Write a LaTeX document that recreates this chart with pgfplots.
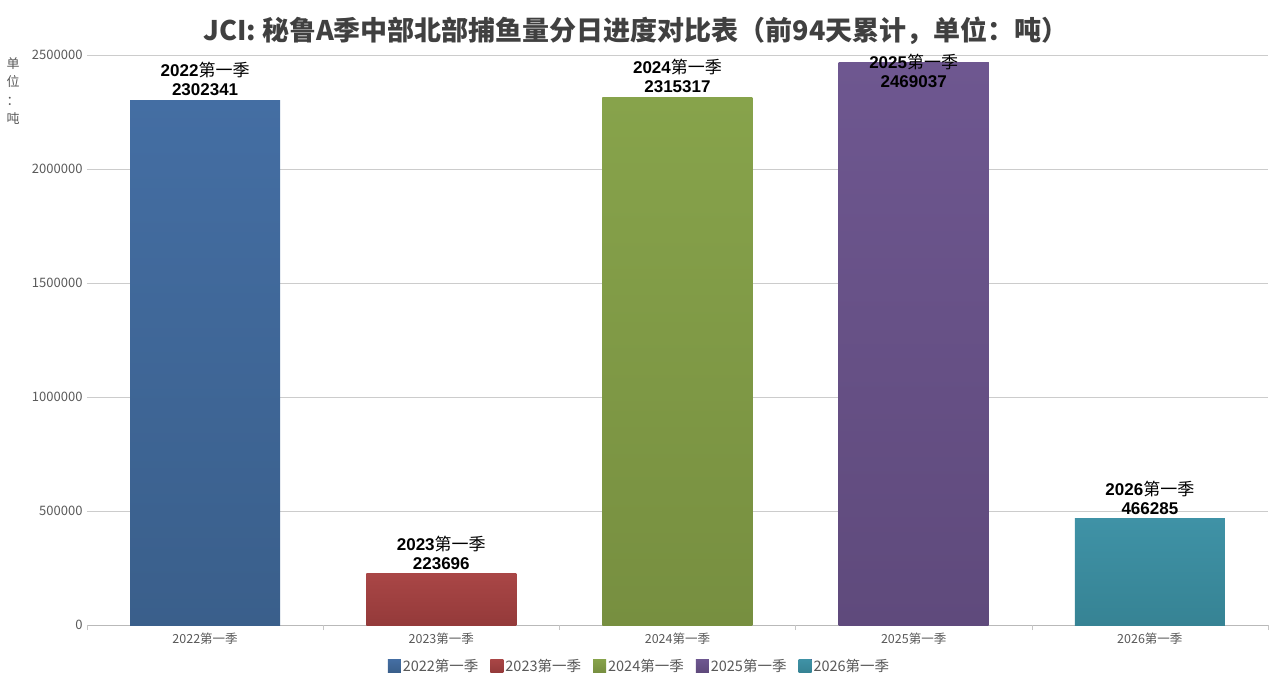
\documentclass[border=0pt]{standalone}
\usepackage{pgfplots}
\pgfplotsset{compat=1.18}
\usepackage{fontspec}
\setmainfont{Noto Sans CJK SC}
\newfontfamily\lab{Liberation Sans}
\newfontfamily\cjk{Noto Sans CJK SC}
\definecolor{tickgray}{HTML}{595959}
\definecolor{titlegray}{HTML}{404040}
\definecolor{b1t}{HTML}{446EA3}\definecolor{b1b}{HTML}{3A5F8B}
\definecolor{b2t}{HTML}{A94646}\definecolor{b2b}{HTML}{943A3A}
\definecolor{b3t}{HTML}{87A34B}\definecolor{b3b}{HTML}{778F40}
\definecolor{b4t}{HTML}{6E5790}\definecolor{b4b}{HTML}{5F4A7C}
\definecolor{b5t}{HTML}{3F92A6}\definecolor{b5b}{HTML}{368394}
\newcommand{\barlab}[2]{{\lab\bfseries #1}{\cjk 第一季}\\{\lab\bfseries #2}}
\begin{document}
\begin{tikzpicture}
\path[use as bounding box] (0,0) rectangle (1278pt,689pt);
\node[font=\fontsize{27}{30}\selectfont\bfseries, text=titlegray] at (636pt,658pt) {JCI: 秘鲁A季中部北部捕鱼量分日进度对比表（前94天累计，单位：吨）};
\node[font=\fontsize{13}{18.5}\selectfont, text=tickgray, align=center] at (13pt,598pt) {单\\位\\：\\吨};
\begin{axis}[
  at={(87pt,64pt)}, anchor=south west,
  scale only axis, width=1181pt, height=570pt,
  xmin=-0.5, xmax=4.5, ymin=0, ymax=2500000,
  ybar, bar width=150pt,
  axis lines*=left,
  y axis line style={draw=none},
  x axis line style={draw=gray!55},
  ymajorgrids, grid style={gray!40, line width=0.8pt},
  ytick={0,500000,1000000,1500000,2000000,2500000},
  scaled y ticks=false,
  yticklabel style={/pgf/number format/fixed, /pgf/number format/1000 sep={}, /pgf/number format/assume math mode=true, font=\fontsize{13}{14}\selectfont, text=tickgray, xshift=-1pt},
  xtick={0,1,2,3,4},
  xticklabels={2022第一季,2023第一季,2024第一季,2025第一季,2026第一季},
  xticklabel style={font=\fontsize{12.5}{14}\selectfont, text=tickgray, yshift=-4pt},
  major tick length=0pt,
  extra x ticks={-0.5,0.5,1.5,2.5,3.5,4.5},
  extra x tick labels={},
  extra x tick style={major tick length=5pt, tick align=outside, tick style={gray!45}, grid=none},
  legend style={at={(0.5,-0.052)}, anchor=north, xshift=-38pt, legend columns=-1, draw=none, font=\fontsize{14.5}{16}\selectfont, text=tickgray, /tikz/every even column/.append style={column sep=10pt}},
  legend image code/.code={\fill[#1] (0pt,-6.5pt) rectangle (13pt,6.5pt);},
  every node near coord/.append style={align=center, font=\fontsize{17}{19}\selectfont, text=black, inner sep=1pt, anchor=south, yshift=3pt},
]
\addplot+[bar shift=0pt, draw=none, top color=b1t, bottom color=b1b, nodes near coords={\barlab{2022}{2302341}}] coordinates {(0,2302341)};
\addplot+[bar shift=0pt, draw=none, top color=b2t, bottom color=b2b, nodes near coords={\barlab{2023}{223696}}] coordinates {(1,223696)};
\addplot+[bar shift=0pt, draw=none, top color=b3t, bottom color=b3b, nodes near coords={\barlab{2024}{2315317}}] coordinates {(2,2315317)};
\addplot+[bar shift=0pt, draw=none, top color=b4t, bottom color=b4b, nodes near coords={\barlab{2025}{2469037}}, every node near coord/.append style={anchor=north, yshift=6pt}] coordinates {(3,2469037)};
\addplot+[bar shift=0pt, draw=none, top color=b5t, bottom color=b5b, nodes near coords={\barlab{2026}{466285}}] coordinates {(4,466285)};
\legend{2022第一季,2023第一季,2024第一季,2025第一季,2026第一季}
\end{axis}
\end{tikzpicture}
\end{document}
